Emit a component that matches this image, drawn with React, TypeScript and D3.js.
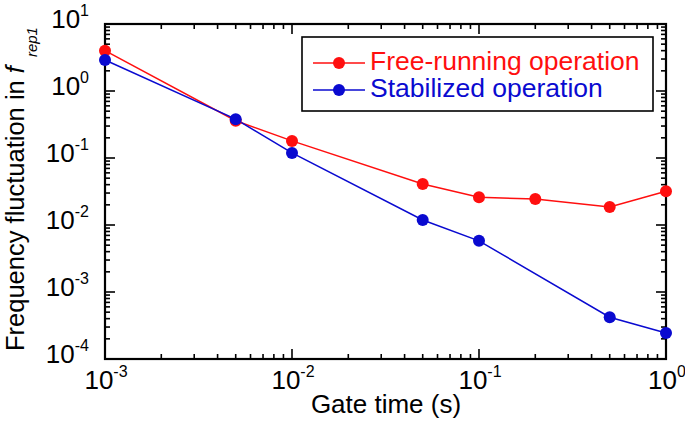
import React from "react";
import * as d3 from "d3";

const gateTimes = [0.001, 0.005, 0.01, 0.05, 0.1, 0.2, 0.5, 1.0];
const freeRunning = [4.0, 0.36, 0.18, 0.041, 0.026, 0.0244, 0.0186, 0.032];
const stabGate = [0.001, 0.005, 0.01, 0.05, 0.1, 0.5, 1.0];
const stabilized = [2.9, 0.38, 0.119, 0.0119, 0.0058, 0.00042, 0.000245];
const xTickExps = [-3, -2, -1, 0];
const yTickExps = [-4, -3, -2, -1, 0, 1];
const legendLabels = ["Free-running operation", "Stabilized operation"];

const RED = "#ff0f0f";
const BLUE = "#0a0ad0";
const FONT = "'Liberation Sans', Arial, sans-serif";

export default function App() {
  const W = 685, H = 421;
  const L = 105, R = 666, T = 24, B = 359;
  const x = d3.scaleLog().domain([1e-3, 1]).range([L, R]);
  const y = d3.scaleLog().domain([1e-4, 10]).range([B, T]);

  const minorX: number[] = [];
  for (let e = -3; e < 0; e++) for (let m = 2; m <= 9; m++) minorX.push(m * Math.pow(10, e));
  const minorY: number[] = [];
  for (let e = -4; e < 1; e++) for (let m = 2; m <= 9; m++) minorY.push(m * Math.pow(10, e));

  const line = d3.line<[number, number]>().x(d => x(d[0])).y(d => y(d[1]));
  const redPts: [number, number][] = gateTimes.map((g, i) => [g, freeRunning[i]]);
  const bluePts: [number, number][] = stabGate.map((g, i) => [g, stabilized[i]]);

  const MAJ = 10, MIN = 5;
  const tickStroke = { stroke: "#000", strokeWidth: 1.6 };

  return (
    <svg width={W} height={H} style={{ position: "absolute", left: 0, top: 0, background: "#fff" }} fontFamily={FONT}>
      <rect x={0} y={0} width={W} height={H} fill="#fff" />
      {xTickExps.map(e => {
        const px = x(Math.pow(10, e));
        return (
          <g key={"xt" + e}>
            <line x1={px} x2={px} y1={B} y2={B - MAJ} {...tickStroke} />
            <line x1={px} x2={px} y1={T} y2={T + MAJ} {...tickStroke} />
          </g>
        );
      })}
      {minorX.map((v, i) => {
        const px = x(v);
        return (
          <g key={"xm" + i}>
            <line x1={px} x2={px} y1={B} y2={B - MIN} {...tickStroke} />
            <line x1={px} x2={px} y1={T} y2={T + MIN} {...tickStroke} />
          </g>
        );
      })}
      {yTickExps.map(e => {
        const py = y(Math.pow(10, e));
        return (
          <g key={"yt" + e}>
            <line x1={L} x2={L + MAJ} y1={py} y2={py} {...tickStroke} />
            <line x1={R} x2={R - MAJ} y1={py} y2={py} {...tickStroke} />
          </g>
        );
      })}
      {minorY.map((v, i) => {
        const py = y(v);
        return (
          <g key={"ym" + i}>
            <line x1={L} x2={L + MIN} y1={py} y2={py} {...tickStroke} />
            <line x1={R} x2={R - MIN} y1={py} y2={py} {...tickStroke} />
          </g>
        );
      })}
      <rect x={L} y={T} width={R - L} height={B - T} fill="none" stroke="#000" strokeWidth={2.2} />

      {yTickExps.map(e => (
        <text key={"yl" + e} x={89} y={y(Math.pow(10, e)) + 4} textAnchor="end" fontSize={26} fill="#000">
          10<tspan fontSize={16} dy={-12}>{e}</tspan>
        </text>
      ))}
      {xTickExps.map(e => (
        <text key={"xl" + e} x={x(Math.pow(10, e)) + 1} y={389} textAnchor="middle" fontSize={26} fill="#000">
          10<tspan fontSize={16} dy={-12}>{e}</tspan>
        </text>
      ))}

      <text x={386} y={413} textAnchor="middle" fontSize={26} fill="#000">Gate time (s)</text>
      <text transform="translate(24,351) rotate(-90)" textAnchor="start" fontSize={25.5} fill="#000">
        Frequency fluctuation in <tspan fontStyle="italic">f</tspan>
        <tspan fontStyle="italic" fontSize={15} dx={9} dy={13}>rep1</tspan>
      </text>

      <path d={line(redPts) || ""} fill="none" stroke={RED} strokeWidth={1.5} />
      <path d={line(bluePts) || ""} fill="none" stroke={BLUE} strokeWidth={1.5} />
      {redPts.map((d, i) => (
        <circle key={"r" + i} cx={x(d[0])} cy={y(d[1])} r={6} fill={RED} />
      ))}
      {bluePts.map((d, i) => (
        <circle key={"b" + i} cx={x(d[0])} cy={y(d[1])} r={6} fill={BLUE} />
      ))}

      <rect x={302} y={37} width={351} height={74} fill="#fff" stroke="#000" strokeWidth={1.6} />
      {legendLabels.map((lab, i) => {
        const cy = 63 + i * 27;
        const c = i === 0 ? RED : BLUE;
        return (
          <g key={"lg" + i}>
            <line x1={313} x2={365} y1={cy} y2={cy} stroke={c} strokeWidth={1.5} />
            <circle cx={339} cy={cy} r={6} fill={c} />
            <text x={370} y={cy + 7} fontSize={26.5} fill={c}>{lab}</text>
          </g>
        );
      })}
    </svg>
  );
}
